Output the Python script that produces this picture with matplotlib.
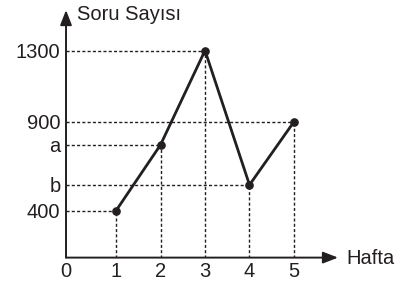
import matplotlib
matplotlib.use("Agg")
import matplotlib.pyplot as plt

# haftalara göre soru sayısı (a ve b grafikten tahmin)
weeks = [1, 2, 3, 4, 5]
a_val = 770
b_val = 545
questions = [400, a_val, 1300, b_val, 900]

y_ticks = [400, b_val, a_val, 900, 1300]
y_tick_labels = ["400", "b", "a", "900", "1300"]
x_tick_labels = ["1", "2", "3", "4", "5"]

INK = "#231f20"
FONT = "Liberation Sans"
FS = 14.5


def plot_chart():
    plt.rcParams["font.family"] = [FONT, "DejaVu Sans"]
    fig = plt.figure(figsize=(4.06, 2.87), dpi=100)
    ax = fig.add_axes([0.1626, 0.1024, 0.67, 0.8627])

    x_left, x_right = -0.124, 5.99
    y_bottom, y_top = 136.5, 1527.5
    ax.set_xlim(x_left, x_right)
    ax.set_ylim(y_bottom, y_top)

    # kesikli yardımcı çizgiler
    for x, y in zip(weeks, questions):
        ax.plot([x_left, x], [y, y], color=INK, lw=1.0,
                linestyle=(0, (2.2, 1.6)), zorder=1)
        ax.plot([x, x], [y_bottom, y], color=INK, lw=1.0,
                linestyle=(0, (2.2, 1.6)), zorder=1)

    ax.plot(weeks, questions, color=INK, lw=2.0, marker="o",
            markersize=5.2, zorder=3)

    for side in ["top", "right", "left", "bottom"]:
        ax.spines[side].set_visible(False)

    # eksen okları
    arrow = dict(arrowstyle="-|>,head_length=0.9,head_width=0.35",
                 color=INK, lw=1.4, shrinkA=0, shrinkB=0)
    ax.annotate("", xy=(1, 0), xytext=(0, 0), xycoords="axes fraction",
                textcoords="axes fraction", arrowprops=arrow,
                annotation_clip=False)
    ax.annotate("", xy=(0, 1), xytext=(0, 0), xycoords="axes fraction",
                textcoords="axes fraction", arrowprops=arrow,
                annotation_clip=False)

    ax.set_xticks([x_left] + weeks)
    ax.set_xticklabels(["0"] + x_tick_labels)
    ax.set_yticks(y_ticks)
    ax.set_yticklabels(y_tick_labels)
    ax.tick_params(length=0, labelsize=FS, colors=INK)
    ax.tick_params(axis="y", pad=4)
    ax.tick_params(axis="x", pad=3)

    fig.text(77 / 406, 0.951, "Soru Sayısı", fontsize=FS, color=INK,
             va="center", ha="left")
    fig.text(346 / 406, 0.101, "Hafta", fontsize=FS, color=INK,
             va="center", ha="left")

    fig.savefig("out.png", dpi=100)


if __name__ == "__main__":
    plot_chart()
